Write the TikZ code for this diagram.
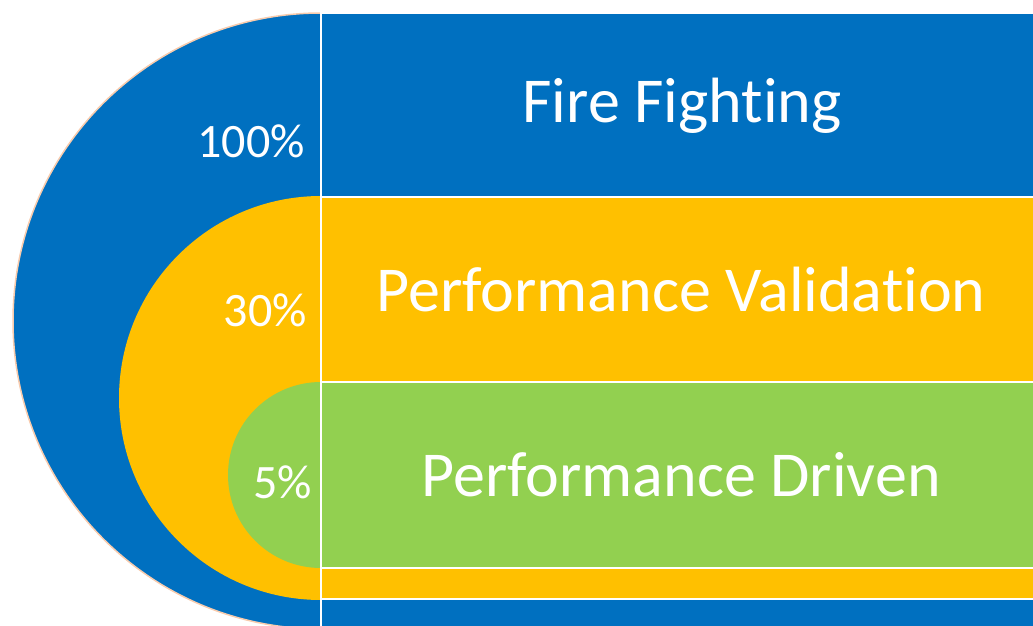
\documentclass[tikz,border=0pt]{standalone}
\usepackage{fontspec}
\setmainfont{Carlito}[Ligatures=NoCommon]
\definecolor{cblue}{HTML}{0070C0}
\definecolor{cyellow}{HTML}{FFC000}
\definecolor{cgreen}{HTML}{92D050}
\definecolor{cpeach}{HTML}{F8CBAD}
\begin{document}
\begin{tikzpicture}[x=1pt,y=1pt,
  band/.style={draw=white,line width=2pt},
  big/.style={text=white,font=\fontsize{64}{72}\selectfont,inner sep=0pt},
  pct/.style={text=white,font=\fontsize{48}{54}\selectfont,inner sep=0pt,anchor=east}]
\useasboundingbox (0,0) rectangle (1033,625);
\clip (0,0) rectangle (1033,625);
% blue
\fill[cblue,draw=cpeach,line width=1.5pt] (321,612) arc[start angle=90,end angle=270,radius=308] -- cycle;
\filldraw[fill=cblue,band] (321,612) rectangle (1040,-10);
% yellow
\fill[cyellow] (321,429) arc[start angle=90,end angle=270,radius=202] -- cycle;
\filldraw[fill=cyellow,band] (321,428) rectangle (1040,26);
% green
\fill[cgreen] (321,243) arc[start angle=90,end angle=270,radius=93] -- cycle;
\filldraw[fill=cgreen,band] (321,243) rectangle (1040,57);
% vertical divider
\coordinate (vt) at (321,612);
\coordinate (vb) at (321,-10);
\draw[white,line width=2pt] (vt) -- (vb);
% texts
\node[big] (ff) at (682,519) {Fire Fighting};
\node[big] (pv) at (681,335) {Performance Validation};
\node[big] (pd) at (681,150) {Performance Driven};
\node[pct] (p100) at (305,484) {100\%};
\node[pct] (p30) at (307,315) {30\%};
\node[pct] (p5) at (312,143) {5\%};
\end{tikzpicture}
\end{document}
